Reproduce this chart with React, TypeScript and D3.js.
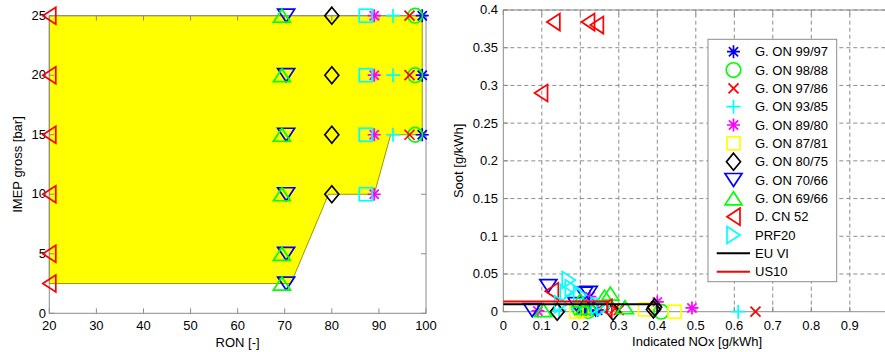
import React from "react";
import * as d3 from "d3";

const W = 885;
const H = 352;
const FONT = "'Liberation Sans', Arial, Helvetica, sans-serif";

// Axis ticks
const ronTicks = [20, 30, 40, 50, 60, 70, 80, 90, 100];
const imepTicks = [0, 5, 10, 15, 20, 25];
const noxTicks = [0, 0.1, 0.2, 0.3, 0.4, 0.5, 0.6, 0.7, 0.8, 0.9, 1.0];
const noxTickLabels = ["0", "0.1", "0.2", "0.3", "0.4", "0.5", "0.6", "0.7", "0.8", "0.9", ""];
const sootTicks = [0, 0.05, 0.1, 0.15, 0.2, 0.25, 0.3, 0.35, 0.4];
const sootTickLabels = ["0", "0.05", "0.1", "0.15", "0.2", "0.25", "0.3", "0.35", "0.4"];

// Operating region outline (RON, IMEP)
const regionRon = [20, 99.2, 99.2, 92.5, 89, 79.3, 71.3, 20];
const regionImep = [25, 25, 15, 15, 10, 10, 2.5, 2.5];

// Fuel names, markers and colours
const fuelNames = [
  "G. ON 99/97", "G. ON 98/88", "G. ON 97/86", "G. ON 93/85", "G. ON 89/80",
  "G. ON 87/81", "G. ON 80/75", "G. ON 70/66", "G. ON 69/66", "D. CN 52", "PRF20",
];
const fuelMarkers = ["star", "circle", "x", "plus", "star", "square", "diamond", "down", "up", "left", "right"];
const fuelColors = ["#0000ff", "#00ff00", "#ff0000", "#00ffff", "#ff00ff", "#ffff00", "#000000", "#0000ff", "#00ff00", "#ff0000", "#00ffff"];
// square markers are drawn in cyan on the yellow region
const fuelColorsLeft = ["#0000ff", "#00ff00", "#ff0000", "#00ffff", "#ff00ff", "#00ffff", "#000000", "#0000ff", "#00ff00", "#ff0000", "#00ffff"];

// RON of each fuel and tested IMEP loads [bar]
const fuelRon = [99.2, 97.7, 96.5, 93, 89, 87.2, 80, 70.3, 69.4, 20, null];
const loadsOn9997 = [15, 20, 25];
const loadsOn9888 = [15, 20, 25];
const loadsOn9786 = [15, 20, 25];
const loadsOn9385 = [15, 20, 25];
const loadsOn8980 = [10, 15, 20, 25];
const loadsOn8781 = [10, 15, 20, 25];
const loadsOn8075 = [10, 15, 20, 25];
const loadsOn7066 = [2.5, 5, 10, 15, 20, 25];
const loadsOn6966 = [2.5, 5, 10, 15, 20, 25];
const loadsCn52 = [2.5, 5, 10, 15, 20, 25];
const loadsPrf20: number[] = [];

// Indicated NOx [g/kWh] and soot [g/kWh]
const noxOn9997 = [0.205, 0.215, 0.245];
const sootOn9997 = [0.003, 0.001, 0.002];
const noxOn9888 = [0.2, 0.22, 0.41];
const sootOn9888 = [0.002, 0.001, 0.0];
const noxOn9786 = [0.29, 0.3, 0.655];
const sootOn9786 = [0.004, 0.002, 0.0];
const noxOn9385 = [0.145, 0.19, 0.61];
const sootOn9385 = [0.002, 0.003, 0.0];
const noxOn8980 = [0.09, 0.225, 0.4, 0.49];
const sootOn8980 = [0.001, 0.02, 0.013, 0.005];
const noxOn8781 = [0.19, 0.205, 0.368, 0.445];
const sootOn8781 = [0.0, 0.002, 0.003, 0.0];
const noxOn8075 = [0.14, 0.285, 0.39, 0.393];
const sootOn8075 = [0.0, 0.0, 0.003, 0.006];
const noxOn7066 = [0.075, 0.117, 0.19, 0.21, 0.222, 0.24];
const sootOn7066 = [0.002, 0.034, 0.01, 0.024, 0.025, 0.003];
const noxOn6966 = [0.104, 0.2, 0.21, 0.263, 0.278, 0.316];
const sootOn6966 = [0.002, 0.015, 0.005, 0.02, 0.024, 0.006];
const noxCn52 = [0.13, 0.22, 0.243, 0.098, 0.126, 0.265];
const sootCn52 = [0.384, 0.384, 0.38, 0.29, 0.027, 0.005];
const noxPrf20 = [0.17, 0.178, 0.165, 0.2, 0.245, 0.26, 0.15];
const sootPrf20 = [0.042, 0.031, 0.025, 0.022, 0.008, 0.006, 0.01];

// Emission limits (NOx, soot)
const euViNox = [0, 0.4, 0.4];
const euViSoot = [0.01, 0.01, 0];
const us10Nox = [0, 0.27, 0.27];
const us10Soot = [0.0134, 0.0134, 0];

const fuelLoads = [loadsOn9997, loadsOn9888, loadsOn9786, loadsOn9385, loadsOn8980, loadsOn8781, loadsOn8075, loadsOn7066, loadsOn6966, loadsCn52, loadsPrf20];
const fuelNox = [noxOn9997, noxOn9888, noxOn9786, noxOn9385, noxOn8980, noxOn8781, noxOn8075, noxOn7066, noxOn6966, noxCn52, noxPrf20];
const fuelSoot = [sootOn9997, sootOn9888, sootOn9786, sootOn9385, sootOn8980, sootOn8781, sootOn8075, sootOn7066, sootOn6966, sootCn52, sootPrf20];

const fuels = fuelNames.map((name, i) => ({
  name,
  marker: fuelMarkers[i],
  color: fuelColors[i],
  colorLeft: fuelColorsLeft[i],
  ron: fuelRon[i],
  loads: fuelLoads[i],
  nox: fuelNox[i],
  soot: fuelSoot[i],
}));

const limits = [
  { name: "EU VI", color: "#000000", nox: euViNox, soot: euViSoot },
  { name: "US10", color: "#ff0000", nox: us10Nox, soot: us10Soot },
];

// Scales
const xRon = d3.scaleLinear().domain([20, 100]).range([49.3, 426]);
const yImep = d3.scaleLinear().domain([0, 25]).range([313.3, 15.7]);
const xNox = d3.scaleLinear().domain([0, 1]).range([503.3, 888.3]);
const ySoot = d3.scaleLinear().domain([0, 0.4]).range([311.7, 10]);

const AXIS = "#8c8c8c";
const TICK = 5;
const X_LABEL_BASE = 329.5;

function Marker({ type, x, y, color }: { type: string; x: number; y: number; color: string }) {
  const sw = 1.7;
  const common = { fill: "none", stroke: color, strokeWidth: sw, strokeLinejoin: "miter" as const };
  const t = `translate(${x},${y})`;
  switch (type) {
    case "circle":
      return <circle cx={x} cy={y} r={7.3} {...common} />;
    case "square":
      return <rect x={x - 6.5} y={y - 6.5} width={13} height={13} {...common} />;
    case "diamond":
      return <path transform={t} d="M0,-8.5L7,0L0,8.5L-7,0Z" {...common} />;
    case "up":
      return <path transform={t} d="M0,-6.5L8.5,6.5L-8.5,6.5Z" {...common} />;
    case "down":
      return <path transform={t} d="M0,6.5L8.5,-6.5L-8.5,-6.5Z" {...common} />;
    case "left":
      return <path transform={t} d="M-6.5,0L6.5,-8.5L6.5,8.5Z" {...common} />;
    case "right":
      return <path transform={t} d="M6.5,0L-6.5,-8.5L-6.5,8.5Z" {...common} />;
    case "plus":
      return <path transform={t} d="M-7,0H7M0,-7V7" {...common} />;
    case "x":
      return <path transform={t} d="M-5,-5L5,5M-5,5L5,-5" {...common} />;
    case "star":
    default:
      return <path transform={t} d="M-6.5,0H6.5M0,-6.5V6.5M-4.6,-4.6L4.6,4.6M-4.6,4.6L4.6,-4.6" {...common} />;
  }
}

function LeftPanel() {
  const [x0, x1] = xRon.range();
  const [y0, y1] = yImep.range();
  const area = d3.line<number>().x((_, i) => xRon(regionRon[i])).y((_, i) => yImep(regionImep[i]));
  return (
    <g>
      <path d={area(regionRon) + "Z"} fill="#ffff00" stroke="#9a9a00" strokeWidth={1} />
      {/* box and ticks */}
      <rect x={x0} y={y1} width={x1 - x0} height={y0 - y1} fill="none" stroke={AXIS} strokeWidth={1} />
      {ronTicks.map((v) => (
        <g key={"rx" + v}>
          <line x1={xRon(v)} x2={xRon(v)} y1={y0} y2={y0 - TICK} stroke={AXIS} />
          <line x1={xRon(v)} x2={xRon(v)} y1={y1} y2={y1 + TICK} stroke={AXIS} />
          <text x={xRon(v)} y={X_LABEL_BASE} textAnchor="middle" fontSize={13} fontFamily={FONT} fill="#000">{v}</text>
        </g>
      ))}
      {imepTicks.map((v) => (
        <g key={"iy" + v}>
          <line x1={x0} x2={x0 + TICK} y1={yImep(v)} y2={yImep(v)} stroke={AXIS} />
          <line x1={x1} x2={x1 - TICK} y1={yImep(v)} y2={yImep(v)} stroke={AXIS} />
          <text x={46} y={yImep(v) + 4.2} textAnchor="end" fontSize={13} fontFamily={FONT} fill="#000">{v}</text>
        </g>
      ))}
      {fuels.map((f) =>
        f.ron == null
          ? null
          : f.loads.map((l, j) => (
              <Marker key={f.name + j} type={f.marker} x={xRon(f.ron as number)} y={yImep(l)} color={f.colorLeft} />
            ))
      )}
      <text x={(x0 + x1) / 2} y={346.5} textAnchor="middle" fontSize={13} fontFamily={FONT} fill="#000">RON [-]</text>
      <text transform={`translate(22,${(y0 + y1) / 2}) rotate(-90)`} textAnchor="middle" fontSize={13} fontFamily={FONT} fill="#000">IMEP gross [bar]</text>
    </g>
  );
}

function RightPanel() {
  const [x0, x1] = xNox.range();
  const [y0, y1] = ySoot.range();
  const line = d3.line<number>();
  const legX = 708, legY = 39.3, legW = 128.7, legH = 242.4;
  const rowY = (i: number) => 51.7 + i * 18.33;
  return (
    <g>
      {/* grid */}
      {noxTicks.slice(1).map((v) => (
        <line key={"gx" + v} x1={xNox(v)} x2={xNox(v)} y1={y0} y2={y1} stroke="#8c8c8c" strokeDasharray="4,3" />
      ))}
      {sootTicks.slice(1).map((v) => (
        <line key={"gy" + v} x1={x0} x2={x1} y1={ySoot(v)} y2={ySoot(v)} stroke="#8c8c8c" strokeDasharray="4,3" />
      ))}
      <rect x={x0} y={y1} width={x1 - x0} height={y0 - y1} fill="none" stroke={AXIS} strokeWidth={1} />
      {noxTicks.map((v, i) => (
        <g key={"nx" + v}>
          <line x1={xNox(v)} x2={xNox(v)} y1={y0} y2={y0 - TICK} stroke={AXIS} />
          <line x1={xNox(v)} x2={xNox(v)} y1={y1} y2={y1 + TICK} stroke={AXIS} />
          <text x={xNox(v)} y={X_LABEL_BASE} textAnchor="middle" fontSize={13} fontFamily={FONT} fill="#000">{noxTickLabels[i]}</text>
        </g>
      ))}
      {sootTicks.map((v, i) => (
        <g key={"sy" + v}>
          <line x1={x0} x2={x0 + TICK} y1={ySoot(v)} y2={ySoot(v)} stroke={AXIS} />
          <text x={498} y={ySoot(v) + 4.4} textAnchor="end" fontSize={13} fontFamily={FONT} fill="#000">{sootTickLabels[i]}</text>
        </g>
      ))}
      {fuels.map((f) =>
        f.nox.map((n, j) => (
          <Marker key={f.name + "r" + j} type={f.marker} x={xNox(n)} y={ySoot(f.soot[j])} color={f.color} />
        ))
      )}
      {limits.map((l) => (
        <path key={l.name} d={line(l.nox.map((n, i) => [xNox(n), ySoot(l.soot[i])] as [number, number])) || ""} fill="none" stroke={l.color} strokeWidth={2} />
      ))}
      <text x={(x0 + 885) / 2 + 3} y={345.5} textAnchor="middle" fontSize={13} fontFamily={FONT} fill="#000">Indicated NOx [g/kWh]</text>
      <text transform={`translate(463,${(y0 + y1) / 2}) rotate(-90)`} textAnchor="middle" fontSize={13} fontFamily={FONT} fill="#000">Soot [g/kWh]</text>
      {/* legend */}
      <rect x={legX} y={legY} width={legW} height={legH} fill="#ffffff" stroke="#8c8c8c" strokeWidth={1} />
      {fuels.map((f, i) => (
        <g key={"lg" + f.name}>
          <Marker type={f.marker} x={733.5} y={rowY(i)} color={f.color} />
          <text x={755} y={rowY(i) + 4.6} fontSize={13} fontFamily={FONT} fill="#000">{f.name}</text>
        </g>
      ))}
      {limits.map((l, k) => (
        <g key={"ll" + l.name}>
          <line x1={716.7} x2={750} y1={rowY(fuels.length + k)} y2={rowY(fuels.length + k)} stroke={l.color} strokeWidth={2} />
          <text x={755} y={rowY(fuels.length + k) + 4.6} fontSize={13} fontFamily={FONT} fill="#000">{l.name}</text>
        </g>
      ))}
    </g>
  );
}

export default function App() {
  return (
    <svg width={W} height={H} viewBox={`0 0 ${W} ${H}`} style={{ position: "absolute", left: 0, top: 0, background: "#fff" }}>
      <rect width={W} height={H} fill="#fff" />
      <LeftPanel />
      <RightPanel />
    </svg>
  );
}
